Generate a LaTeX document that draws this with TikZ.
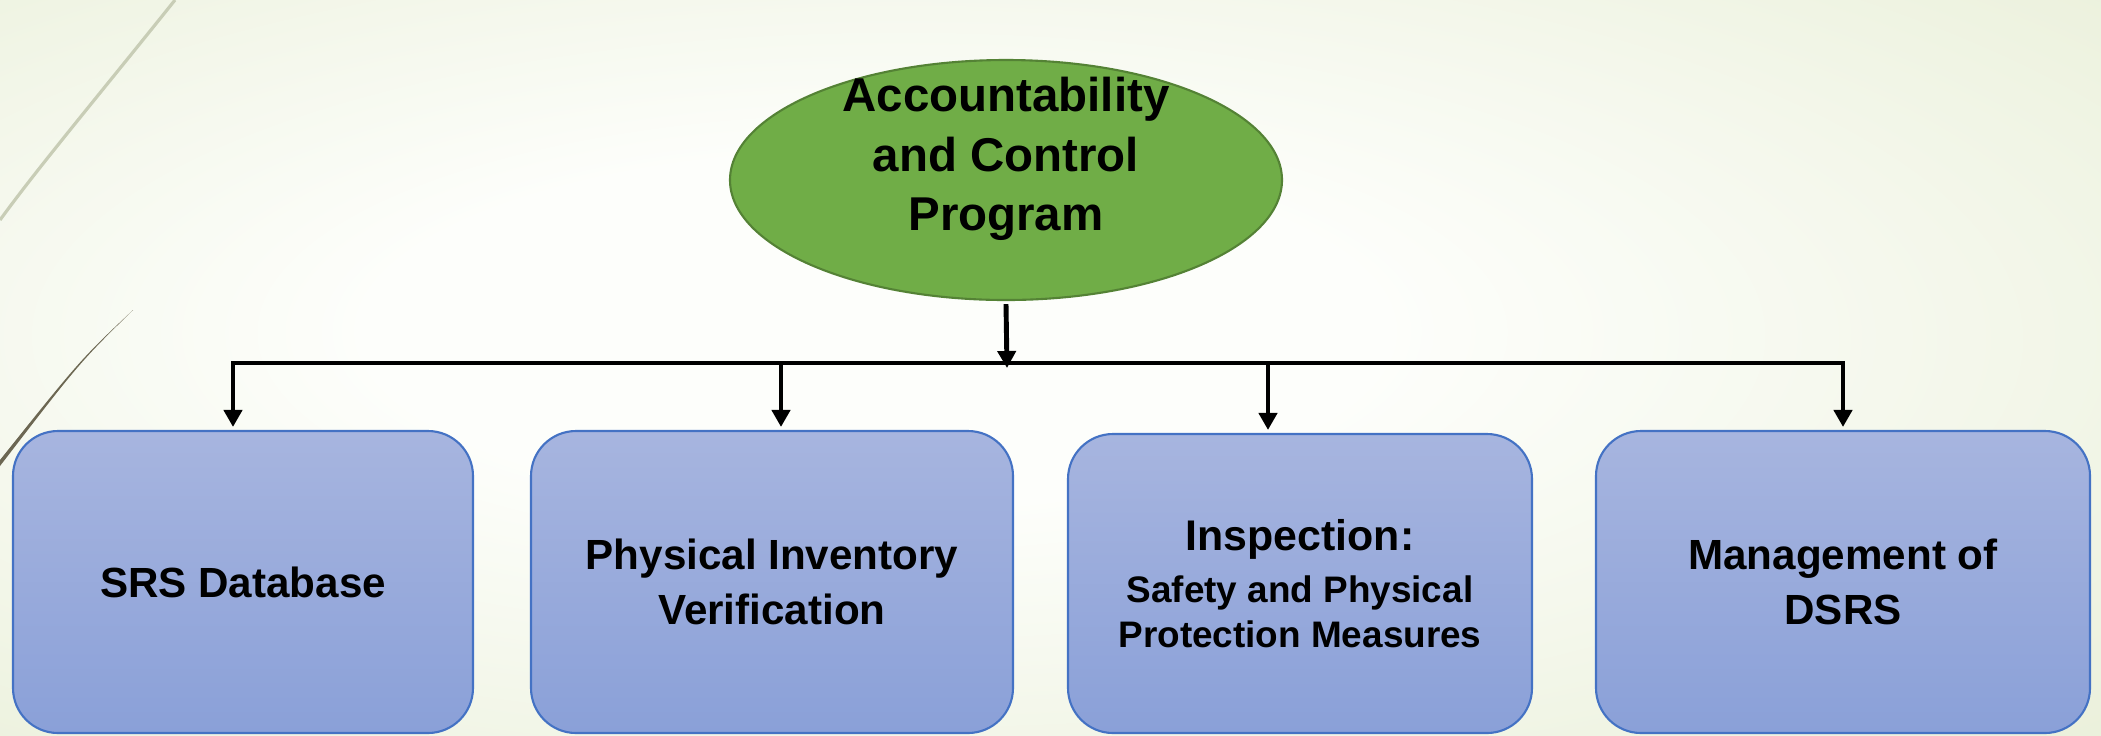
\documentclass[tikz,border=0pt]{standalone}
\usepackage{fontspec}
\setmainfont{Liberation Sans}
\usetikzlibrary{arrows.meta,shapes.geometric,positioning}

\definecolor{slidedeep}{RGB}{218,229,186}
\definecolor{slidegreen}{RGB}{223,232,196}
\definecolor{slidemid}{RGB}{229,236,208}
\definecolor{slidepale}{RGB}{237,242,223}
\definecolor{slidewhite}{RGB}{253,254,251}
\definecolor{acpgreen}{RGB}{112,173,71}
\definecolor{acpedge}{RGB}{84,130,53}
\definecolor{boxtop}{RGB}{167,181,223}
\definecolor{boxbottom}{RGB}{138,160,216}
\definecolor{boxedge}{RGB}{68,114,196}
\definecolor{swooshlight}{RGB}{200,205,182}
\definecolor{swooshdark}{RGB}{108,103,82}

\pgfdeclareradialshading{slideglow}{\pgfpoint{-5bp}{3bp}}{%
  color(0bp)=(slidewhite); color(12bp)=(slidewhite); color(35bp)=(slidepale);
  color(48bp)=(slidemid); color(60bp)=(slidegreen); color(75bp)=(slidedeep)}

\begin{document}
\begin{tikzpicture}[
  topnode/.style={ellipse, fill=acpgreen, draw=acpedge, line width=0.6pt,
    minimum width=5.52cm, minimum height=2.40cm, inner sep=0pt},
  toptext/.style={font=\bfseries\fontsize{13.5}{17}\selectfont, align=center},
  branch/.style={rectangle, rounded corners=0.45cm, draw=boxedge, line width=0.6pt,
    top color=boxtop, bottom color=boxbottom, minimum height=3.02cm,
    align=center, font=\bfseries\fontsize{12}{15.6}\selectfont},
  link/.style={line width=1.4pt, -{Triangle[length=0.17cm,width=0.18cm]}, shorten >=0.03cm}
]
  % slide background
  \shade[shading=slideglow] (0,0) rectangle (21.01,-7.35);
  \useasboundingbox (0,0) rectangle (21.01,-7.35);
  \draw[swooshlight, line width=0.9pt] (1.75,0) .. controls (0.95,-1.0) and (0.4,-1.65) .. (0,-2.2);
  \fill[swooshdark] (1.33,-3.10) .. controls (0.8,-3.62) .. (0,-4.66) -- (0,-4.60) .. controls (0.8,-3.60) .. cycle;

  % top of the tree
  \node[topnode] (acp) at (10.06,-1.80) {};
  \node[toptext] at ([yshift=0.21cm]acp.center) {Accountability\\and Control\\Program};

  % the four branches
  \node[branch, minimum width=4.60cm] (srs) at (2.43,-5.82) {SRS Database};
  \node[branch, minimum width=4.82cm] (piv) at (7.72,-5.82) {Physical Inventory\\Verification};
  \node[branch, minimum width=4.64cm, minimum height=2.99cm,
    font=\bfseries\fontsize{10.5}{12.8}\selectfont] (ins) at (13.00,-5.835)
    {\fontsize{12.2}{15}\selectfont Inspection:\\[2pt]
     Safety and Physical\\
     Protection Measures};
  \node[branch, minimum width=4.94cm] (dsrs) at (18.43,-5.82) {Management of\\DSRS};

  % connectors
  \coordinate (hub) at (10.07,-3.63);
  \coordinate (srsin) at ([xshift=-0.10cm]srs.north);
  \coordinate (pivin) at ([xshift=0.09cm]piv.north);
  \coordinate (insin) at ([xshift=-0.32cm]ins.north);
  \draw[link, shorten >=0cm] ([yshift=-0.03cm]acp.south) -- ([yshift=-0.05cm]hub);
  \draw[link, {Triangle[length=0.17cm,width=0.18cm]}-{Triangle[length=0.17cm,width=0.18cm]}, shorten <=0.03cm]
    (srsin) |- (hub) -| (dsrs.north);
  \draw[link] (pivin |- hub) -- (pivin);
  \draw[link] (insin |- hub) -- (insin);
\end{tikzpicture}
\end{document}
